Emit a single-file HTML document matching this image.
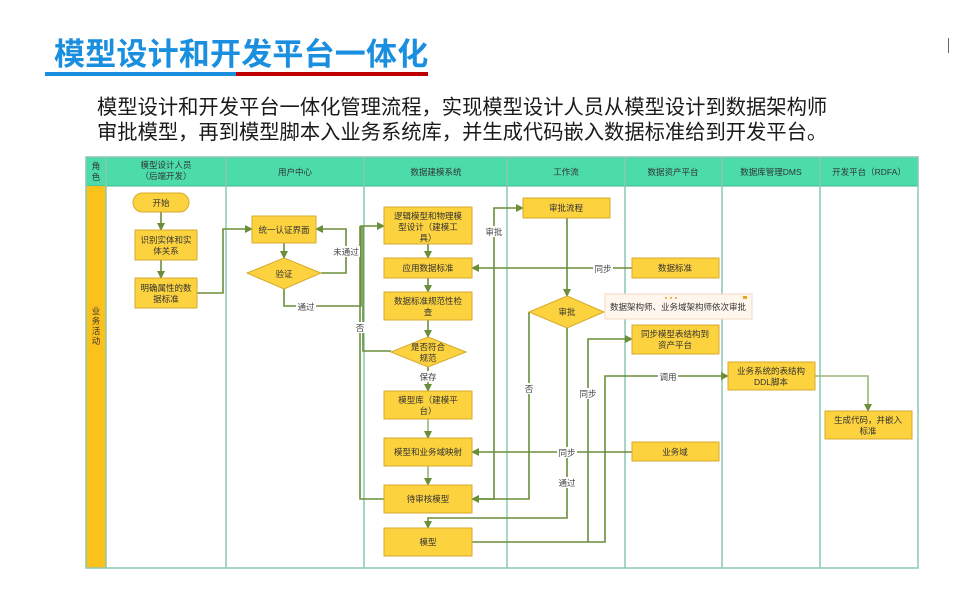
<!DOCTYPE html>
<html><head><meta charset="utf-8"><style>
body{margin:0;width:954px;height:608px;background:#fff;overflow:hidden;font-family:"Liberation Sans","Noto Sans CJK SC",sans-serif;position:relative}
.t{position:absolute;left:54px;top:29px;font-size:31px;font-weight:bold;color:#1b8fdf;letter-spacing:0.2px}
.p{position:absolute;left:97px;top:96px;font-size:20.3px;line-height:25px;color:#1a1a1a;white-space:nowrap}
</style></head><body>
<div class="t">模型设计和开发平台一体化</div>
<div style="position:absolute;left:45px;top:72px;width:191px;height:4px;background:#1b8fdf"></div>
<div style="position:absolute;left:236px;top:72px;width:192px;height:4px;background:#c00000"></div>
<div style="position:absolute;left:948px;top:38px;width:1px;height:15px;background:#666"></div>
<div class="p">模型设计和开发平台一体化管理流程，实现模型设计人员从模型设计到数据架构师<br>审批模型，再到模型脚本入业务系统库，并生成代码嵌入数据标准给到开发平台。</div>
<svg width="954" height="608" style="position:absolute;left:0;top:0" font-family="Liberation Sans, Noto Sans CJK SC, sans-serif">
<defs><marker id="a" markerWidth="8" markerHeight="8" refX="7" refY="4" orient="auto" markerUnits="userSpaceOnUse"><path d="M0,0 L8,4 L0,8z" fill="#6b8e3a"/></marker></defs>
<rect x="86" y="157" width="832" height="29" fill="#4bdcaa" stroke="#3cb88a"/>
<rect x="86" y="186" width="20" height="382" fill="#fcc21b"/>
<rect x="86" y="157" width="832" height="411" fill="none" stroke="#8cc8b0" stroke-width="1.5"/>
<g stroke="#8cc8b0" stroke-width="1.5"><line x1="106" y1="157" x2="106" y2="568"/><line x1="226" y1="157" x2="226" y2="568"/><line x1="364" y1="157" x2="364" y2="568"/><line x1="507" y1="157" x2="507" y2="568"/><line x1="625" y1="157" x2="625" y2="568"/><line x1="722" y1="157" x2="722" y2="568"/><line x1="820" y1="157" x2="820" y2="568"/></g>
<g font-size="8.5" fill="#333" text-anchor="middle">
<text x="96" y="169">角</text><text x="96" y="180">色</text>
<text x="166" y="168">模型设计人员</text><text x="166" y="179">（后端开发）</text>
<text x="295" y="175">用户中心</text><text x="436" y="175">数据建模系统</text><text x="566" y="175">工作流</text>
<text x="673" y="175">数据资产平台</text><text x="771" y="175">数据库管理DMS</text><text x="869" y="175">开发平台（RDFA）</text>
<text x="96" y="314">业</text><text x="96" y="324">务</text><text x="96" y="334">活</text><text x="96" y="344">动</text>
</g>
<g stroke="#6b8e3a" stroke-width="1.6" fill="none">
<line x1="161" y1="212" x2="161" y2="230" marker-end="url(#a)"/>
<line x1="161" y1="260" x2="161" y2="278" marker-end="url(#a)"/>
<polyline points="197,293 223,293 223,229 252,229" marker-end="url(#a)"/>
<line x1="284" y1="243" x2="284" y2="258" marker-end="url(#a)"/>
<polyline points="321,273 346,273 346,229 316,229" marker-end="url(#a)"/>
<polyline points="284,289 284,306 361,306 361,226 384,226" marker-end="url(#a)"/>
<polyline points="391,351 363,351 363,226"/>
<polyline points="384,499 360,499 360,226"/>
<line x1="428" y1="244" x2="428" y2="258" marker-end="url(#a)"/>
<line x1="428" y1="278" x2="428" y2="292" marker-end="url(#a)"/>
<line x1="428" y1="320" x2="428" y2="337" marker-end="url(#a)"/>
<line x1="428" y1="367" x2="428" y2="391" marker-end="url(#a)"/>
<line x1="428" y1="419" x2="428" y2="438" marker-end="url(#a)" stroke="#9bb57a"/>
<line x1="428" y1="466" x2="428" y2="485" marker-end="url(#a)" stroke="#9bb57a"/>
<polyline points="472,499 494,499 494,208 523,208" marker-end="url(#a)"/>
<polyline points="529,312 529,499 472,499" marker-end="url(#a)"/>
<line x1="567" y1="218" x2="567" y2="296" marker-end="url(#a)"/>
<polyline points="567,328 567,518 428,518 428,528" marker-end="url(#a)"/>
<line x1="632" y1="268" x2="472" y2="268" marker-end="url(#a)"/>
<line x1="632" y1="452" x2="472" y2="452" marker-end="url(#a)"/>
<polyline points="472,542 605,542 605,376 728,376" marker-end="url(#a)"/>
<polyline points="588,542 588,339 632,339" marker-end="url(#a)"/>
<polyline points="815,376 868,376 868,411" marker-end="url(#a)" stroke="#9bb57a"/>
</g>
<g fill="#fcd23f" stroke="#d6aa2c" stroke-width="1">
<rect x="133" y="193" width="56" height="19" rx="9.5"/>
<rect x="135" y="230" width="62" height="30"/><rect x="135" y="278" width="62" height="30"/>
<rect x="252" y="216" width="64" height="27"/>
<polygon points="284,258 321,273 284,289 247,273"/>
<rect x="384" y="207" width="88" height="37"/><rect x="384" y="258" width="88" height="20"/>
<rect x="384" y="292" width="88" height="28"/>
<polygon points="428,337 466,352 428,367 391,352"/>
<rect x="384" y="391" width="88" height="28"/><rect x="384" y="438" width="88" height="28"/>
<rect x="384" y="485" width="88" height="28"/><rect x="384" y="528" width="88" height="28"/>
<rect x="523" y="198" width="87" height="20"/>
<polygon points="567,296 604,312 567,328 529,312"/>
<rect x="632" y="258" width="87" height="20"/><rect x="632" y="325" width="87" height="29"/>
<rect x="632" y="442" width="87" height="19"/>
<rect x="728" y="362" width="87" height="28"/><rect x="825" y="411" width="87" height="28"/>
</g>
<rect x="605" y="294" width="147" height="25" fill="#fff6ee" stroke="#f5d9c0"/>
<g font-size="8.5" fill="#333" text-anchor="middle">
<text x="161" y="206">开始</text>
<text x="166" y="243">识别实体和实</text><text x="166" y="254">体关系</text>
<text x="166" y="291">明确属性的数</text><text x="166" y="302">据标准</text>
<text x="284" y="233">统一认证界面</text><text x="284" y="277">验证</text>
<text x="428" y="219">逻辑模型和物理模</text><text x="428" y="230">型设计（建模工</text><text x="428" y="241">具）</text>
<text x="428" y="271">应用数据标准</text>
<text x="428" y="304">数据标准规范性检</text><text x="428" y="315">查</text>
<text x="428" y="350">是否符合</text><text x="428" y="361">规范</text>
<text x="428" y="403">模型库（建模平</text><text x="428" y="414">台）</text>
<text x="428" y="455">模型和业务域映射</text><text x="428" y="502">待审核模型</text><text x="428" y="545">模型</text>
<text x="566" y="211">审批流程</text><text x="567" y="315">审批</text>
<text x="675" y="271">数据标准</text>
<text x="675" y="337">同步模型表结构到</text><text x="675" y="348">资产平台</text>
<text x="675" y="455">业务域</text>
<text x="771" y="374">业务系统的表结构</text><text x="771" y="385">DDL脚本</text>
<text x="868" y="423">生成代码，并嵌入</text><text x="868" y="434">标准</text>
<text x="678" y="310">数据架构师、业务域架构师依次审批</text>
</g>
<g font-size="8.5" fill="#444" text-anchor="middle">
<rect x="332" y="246" width="28" height="11" fill="#fff"/><text x="346" y="255">未通过</text>
<rect x="296" y="301" width="20" height="11" fill="#fff"/><text x="306" y="310">通过</text>
<rect x="354" y="322" width="12" height="11" fill="#fff"/><text x="360" y="331">否</text>
<rect x="418" y="371" width="20" height="11" fill="#fff"/><text x="428" y="380">保存</text>
<rect x="484" y="226" width="20" height="11" fill="#fff"/><text x="494" y="235">审批</text>
<rect x="523" y="383" width="12" height="11" fill="#fff"/><text x="529" y="392">否</text>
<rect x="593" y="263" width="20" height="11" fill="#fff"/><text x="603" y="272">同步</text>
<rect x="557" y="447" width="20" height="11" fill="#fff"/><text x="567" y="456">同步</text>
<rect x="578" y="388" width="20" height="11" fill="#fff"/><text x="588" y="397">同步</text>
<rect x="557" y="477" width="20" height="11" fill="#fff"/><text x="567" y="486">通过</text>
<rect x="658" y="371" width="20" height="11" fill="#fff"/><text x="668" y="380">调用</text>
</g>
<g fill="#f0a020"><circle cx="666" cy="298" r="1"/><circle cx="671" cy="298" r="1"/><circle cx="676" cy="298" r="1"/><rect x="743" y="296" width="4" height="3"/></g>
</svg>
</body></html>
